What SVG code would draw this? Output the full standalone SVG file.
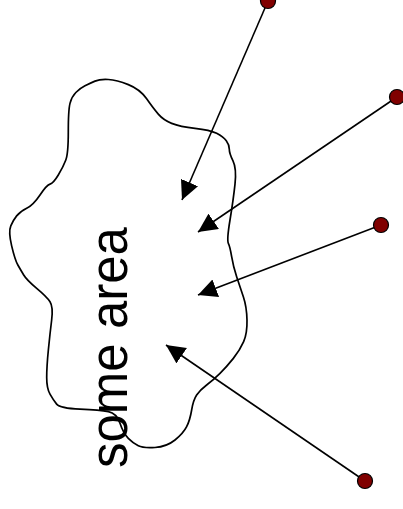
<svg xmlns="http://www.w3.org/2000/svg" width="403" height="509" viewBox="0 0 403 509">
<style>
.conn{stroke:#000;stroke-width:1.6;fill:none;marker-end:url(#ah)}
.dot{fill:#800000;stroke:#000;stroke-width:1.2}
.cloud{fill:none;stroke:#000;stroke-width:1.7;stroke-linejoin:round}
.lbl{font-family:"Liberation Sans",Arial,sans-serif;font-size:51px;fill:#000}
</style>
<defs>
<marker id="ah" markerUnits="userSpaceOnUse" markerWidth="20" markerHeight="19" refX="19" refY="9.3" orient="auto">
<path d="M0,0 L19,9.3 L0,18.6 z" fill="#000"/>
</marker>
</defs>
<rect width="403" height="509" fill="#fff"/>
<g id="area">
<path class="cloud" d="M108.35,79.5 Q116.7,80 128.35,84.65 Q140,89.3 146.65,98.8 Q153.3,108.3 158.3,114.15 Q163.3,120 171.65,123.35 Q180,126.7 195,128.35 Q210,130 216.65,133.35 Q223.3,136.7 226.3,140.85 Q229.3,145 229.3,149.15 Q229.3,153.3 233,160.8 Q236.7,168.3 235,184.15 Q233.3,200 230,220 Q226.7,240 228.35,243.35 Q230,246.7 231.65,256.7 Q233.3,266.7 236.65,276.7 Q240,286.7 243.35,296.7 Q246.7,306.7 247,320 Q247.3,333.3 243.65,341.65 Q240,350 233.35,358.35 Q226.7,366.7 220,373.35 Q213.3,380 206.65,385 Q200,390 196.65,395 Q193.3,400 191.65,410 Q190,420 186.65,426.65 Q183.3,433.3 175,440 Q166.7,446.7 155,447.5 Q143.3,448.3 138.3,445.8 Q133.3,443.3 128.3,438.3 Q123.3,433.3 120,423.3 Q116.7,413.3 108.35,411.65 Q100,410 80,409.15 Q60,408.3 56.65,404.15 Q53.3,400 50,394.15 Q46.7,388.3 46.7,377.5 Q46.7,366.7 48.35,350 Q50,333.3 51.65,320 Q53.3,306.7 50,301.7 Q46.7,296.7 36.7,288.35 Q26.7,280 23.7,275 Q20.7,270 17.85,265 Q15,260 11.65,245.85 Q8.3,231.7 10.8,225.85 Q13.3,220 16.65,215.85 Q20,211.7 26.65,208.35 Q33.3,205 40,195 Q46.7,185 50,184.15 Q53.3,183.3 58.3,175 Q63.3,166.7 65.8,160 Q68.3,153.3 68.3,131.65 Q68.3,110 70,103.35 Q71.7,96.7 75.85,92.5 Q80,88.3 85,85.8 Q90,83.3 95,81.15 Q100,79 108.35,79.5 Z"/>
<text class="lbl" transform="translate(127,468) rotate(-90)">some area</text>
</g>
<g id="connectors">
<line class="conn" x1="268" y1="1" x2="182" y2="200"/>
<line class="conn" x1="397" y1="97" x2="198" y2="232"/>
<line class="conn" x1="381" y1="225" x2="198" y2="295"/>
<line class="conn" x1="365" y1="481" x2="166" y2="345"/>
</g>
<g id="p1"><circle class="dot" cx="268" cy="1" r="7.5"/></g>
<g id="p2"><circle class="dot" cx="397" cy="97" r="7.5"/></g>
<g id="p3"><circle class="dot" cx="381" cy="225" r="7.5"/></g>
<g id="p4"><circle class="dot" cx="365" cy="481" r="7.5"/></g>
</svg>
